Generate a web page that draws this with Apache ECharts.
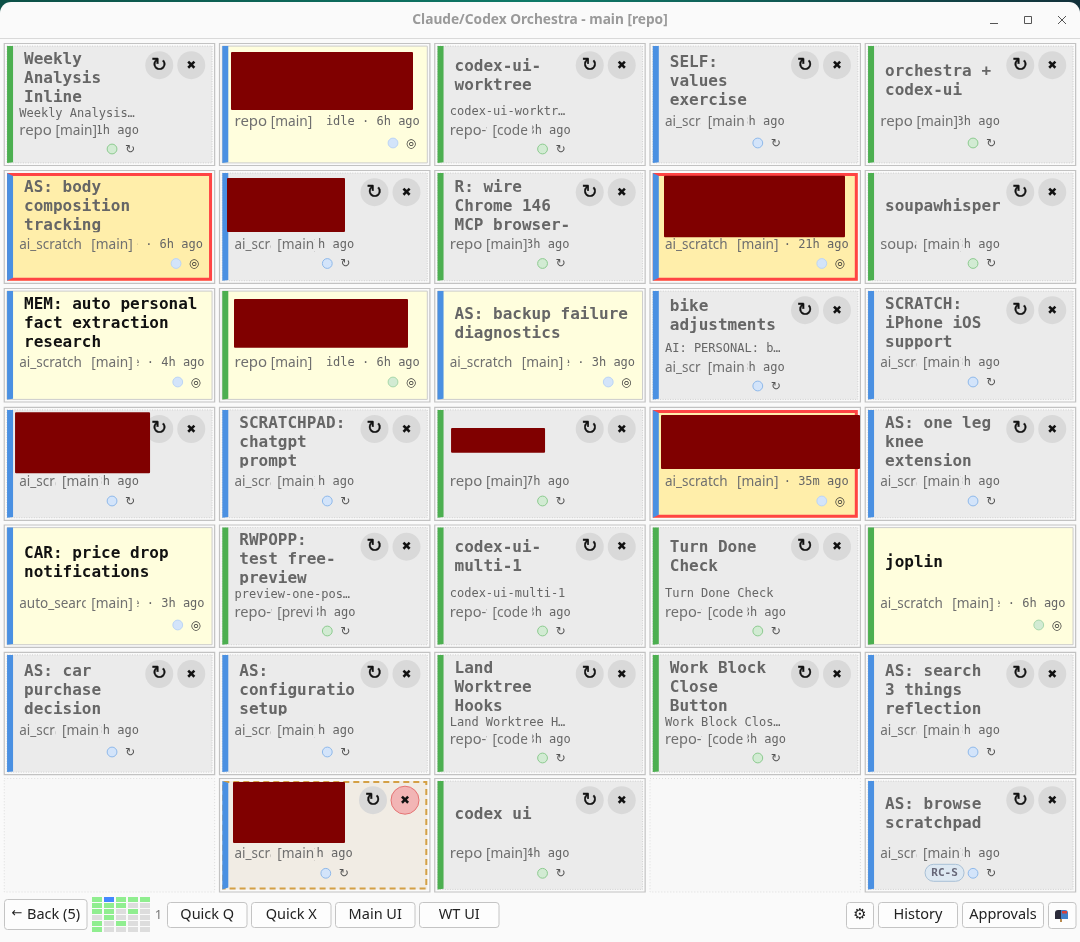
<!DOCTYPE html>
<html><head><meta charset="utf-8">
<style>html,body{margin:0;padding:0;background:#fafafa;overflow:hidden}#c{width:1080px;height:942px}</style>
<script src="https://cdn.jsdelivr.net/npm/echarts@6/dist/echarts.min.js"></script>
</head><body><div id="c"></div>
<script>
// ---- data: 7 rows x 5 columns of session cards ----
const titles = [
 "Weekly\nAnalysis\nInline", null, "codex-ui-\nworktree", "SELF:\nvalues\nexercise", "orchestra +\ncodex-ui",
 "AS: body\ncomposition\ntracking", null, "R: wire\nChrome 146\nMCP browser-", null, "soupawhisper",
 "MEM: auto personal\nfact extraction\nresearch", null, "AS: backup failure\ndiagnostics", "bike\nadjustments", "SCRATCH:\niPhone iOS\nsupport",
 null, "SCRATCHPAD:\nchatgpt\nprompt", null, null, "AS: one leg\nknee\nextension",
 "CAR: price drop\nnotifications", "RWPOPP:\ntest free-\npreview", "codex-ui-\nmulti-1", "Turn Done\nCheck", "joplin",
 "AS: car\npurchase\ndecision", "AS:\nconfiguration\nsetup", "Land\nWorktree\nHooks", "Work Block\nClose\nButton", "AS: search\n3 things\nreflection",
 null, null, "codex ui", null, "AS: browse\nscratchpad"
];
const subtitles = [
 "Weekly Analysis…", "", "codex-ui-worktr…", "", "",
 "", "", "", "", "",
 "", "", "", "AI: PERSONAL: b…", "",
 "", "", "", "", "",
 "", "preview-one-pos…", "codex-ui-multi-1", "Turn Done Check", "",
 "", "", "Land Worktree H…", "Work Block Clos…", "",
 "", "", "", "", ""
];
const repoNames = [
 "repo","repo","repo-wt","ai_scratch","repo",
 "ai_scratch","ai_scratch","repo","ai_scratch","soupawhisper",
 "ai_scratch","repo","ai_scratch","ai_scratch","ai_scratch",
 "ai_scratch","ai_scratch","repo","ai_scratch","ai_scratch",
 "auto_search","repo-wt","repo-wt","repo-wt","ai_scratch",
 "ai_scratch","ai_scratch","repo-wt","repo-wt","ai_scratch",
 "","ai_scratch","repo","","ai_scratch"
];
const branches = [
 "[main]","[main]","[codex-ui]","[main]","[main]",
 "[main]","[main]","[main]","[main]","[main]",
 "[main]","[main]","[main]","[main]","[main]",
 "[main]","[main]","[main]","[main]","[main]",
 "[main]","[preview]","[codex-ui]","[codex-ui]","[main]",
 "[main]","[main]","[codex-ui]","[codex-ui]","[main]",
 "","[main]","[main]","","[main]"
];
const ages = [
 "1h","6h","3h","3h","3h",
 "6h","3h","3h","21h","3h",
 "4h","6h","3h","3h","3h",
 "3h","3h","7h","35m","3h",
 "3h","3h","3h","3h","6h",
 "3h","3h","3h","3h","3h",
 "","1h","4h","","3h"
];
const agents = [
 "g","b","g","b","g",
 "b","b","g","b","g",
 "b","g","b","b","b",
 "b","b","g","b","b",
 "b","g","g","g","g",
 "b","b","g","g","b",
 "","b","g","","b"
];
// n normal, y waiting, u unread, a alert, h hovered, e empty
const states = [
 "n","y","n","n","n",
 "a","n","n","a","n",
 "u","y","y","n","n",
 "n","n","n","a","n",
 "u","n","n","n","u",
 "n","n","n","n","n",
 "e","h","n","e","n"
];
const badges = {34:"RC-S"};
const miniColumns = ["1","2","3","4","5"];
const miniRows = ["1","2","3","4","5","6"];
const miniStates = [
 [1,2,1,1,1],
 [1,1,1,0,0],
 [1,1,0,1,0],
 [0,1,0,0,0],
 [1,0,1,0,0],
 [1,0,0,0,0]
];
const toolbarLeft = ["Quick Q","Quick X","Main UI","WT UI"];
const windowTitle = "Claude/Codex Orchestra - main [repo]";

// ---- layout (not data) ----
const COL0 = 4.25, COLP = 215.25, CW = 210.4;
const rowTop = [43.5,170.5,288.5,407.3,525,652.3,778.5];
const rowBot = [165.5,283.3,402,520.3,647.3,774.7,892];
const rowTitle = [81.5,207.3,324.3,442.7,563,690.6,814.6];
const rowRepo = [122,245,363,482,603.7,731,854];
const rowDot = [143,263.5,382,501,625,752,873.3];
const tall = [1,0,0,0,1,1,0];
const redactions = { // card index -> offset box relative to card origin (x,y,w,h)
 1:[11.5,8.5,182,58], 6:[7.5,7.5,118,54], 8:[14,5.2,181,61.5], 11:[14.5,10.5,174,48.7],
 15:[10.8,5,135,61], 17:[16.3,20.7,94,24.7], 18:[11,7.7,199,54], 31:[13.5,3.5,112,61]
};
const MONO = '"DejaVu Sans Mono"', UI = '"Noto Sans"', SYM = '"DejaVu Sans"';
const GREY = '#666', BTN='#d9d9d9';
const nameSize = {repo:15, ai_scratch:13.5, auto_search:13.5, 'repo-wt':14.6, soupawhisper:14.6};
const BRANCH_SIZE = 13.7;

function txt(x,y,s,fill,font,align){
  return {type:'text',silent:true,style:{x,y,text:s,fill,font,align:align||'left',verticalAlign:'middle'}};
}
function clipped(x,y,w,h,child){
  return {type:'group',silent:true,clipPath:{type:'rect',shape:{x,y,width:w,height:h}},children:[child]};
}
function renderCard(params,api){
  const i = api.value(2), row = Math.floor(i/5);
  const p = api.coord([api.value(0),api.value(1)]);
  const x = p[0], y = p[1], h = rowBot[row]-rowTop[row], w = CW;
  const st = states[i], ch = [];
  // outer frame
  ch.push({type:'rect',shape:{x,y,width:w,height:h},style:{fill: st==='e'?'#f8f8f8':'#fafafa',stroke: st==='e'?'#dcdcdc':'#c2c2c2',lineWidth:st==='e'?1:1.2,lineDash:st==='e'?[1,2]:null}});
  if(st==='e') return {type:'group',children:ch};
  const ix=x+2.8, iy=y+2.6, iw=w-5.4, ih=h-5.2;
  const barC = agents[i]==='g'?'#4caf50':'#4a90e2';
  const yellow = st==='y'||st==='u';
  const fills = {n:'#ebebeb',y:'#fffedd',u:'#fffedd',a:'#ffeeaa',h:'#f1ece4'};
  ch.push({type:'rect',shape:{x:ix,y:iy,width:iw,height:ih},style:{fill:fills[st]}});
  if(st==='n') ch.push({type:'rect',shape:{x:ix,y:iy,width:iw,height:ih},style:{fill:null,stroke:'#cfcfcf',lineWidth:1,lineDash:[1,1.5]}});
  if(yellow) ch.push({type:'rect',shape:{x:ix,y:iy,width:iw,height:ih},style:{fill:null,stroke:'#cccccc',lineWidth:1}});
  if(st==='a') ch.push({type:'rect',shape:{x:ix+1.5,y:iy+1.5,width:iw-3,height:ih-3},style:{fill:null,stroke:'#ff4444',lineWidth:3}});
  if(st==='h') ch.push({type:'rect',shape:{x:ix+1,y:iy+1,width:iw-2,height:ih-2},style:{fill:null,stroke:'#d4a045',lineWidth:2,lineDash:[6,4]}});
  // left bar
  const bw=6;
  const m = st==='a'?3:(st==='h'?2:0);
  ch.push({type:'polygon',shape:{points:[[ix,iy],[ix+bw,iy+m],[ix+bw,iy+ih-Math.max(m,0.6)],[ix,iy+ih]]},style:{fill:barC}});
  const hasBtns = st==='n'||st==='h';
  const shift = st==='h'?-1.5:0;
  // title
  const sub = subtitles[i];
  if(titles[i]){
    const lines = titles[i].split('\n');
    let c = rowTitle[row];
    if(sub){ c += lines.length===3 ? -3 : (tall[row] ? -5.5 : -7.5); }
    const tc = st==='u' ? '#111' : GREY;
    const font = 'bold 16px '+MONO;
    lines.forEach((l,k)=>{
      const ly = c+(k-(lines.length-1)/2)*19;
      ch.push(clipped(x+19.5,c-30,hasBtns?115.6:w-22,55,txt(x+19.8,ly,l,tc,font)));
    });
  }
  // meta
  const repoY = rowRepo[row] + (sub ? (tall[row]?9:5) : 0);
  if(sub){
    const lines = titles[i]?titles[i].split('\n').length:2;
    ch.push(txt(x+15,repoY-(lines===3?17.5:19.2),sub,GREY,'12px '+MONO));
  }
  const nm = repoNames[i], br = branches[i];
  const nFont = (nameSize[nm]||14.6)+'px '+UI, bFont = BRANCH_SIZE+'px '+UI, uiCol = '#707070';
  const rx = x+15;
  if(nm==='repo'){
    ch.push(txt(rx,repoY,nm,uiCol,nFont));
    ch.push(txt(x+51.3,repoY,br,uiCol,bFont));
  } else if(hasBtns){
    ch.push(clipped(rx,repoY-12,nm.startsWith('repo-')?37:36,24,txt(rx,repoY,nm,uiCol,nFont)));
    ch.push(clipped(x+57,repoY-12,nm.startsWith('repo-')?36:38,24,txt(x+57.7,repoY,br,uiCol,bFont)));
  } else {
    ch.push(clipped(rx,repoY-12,st==='a'?71:66.5,24,txt(rx,repoY,nm,uiCol,nFont)));
    ch.push(txt(x+87,repoY,br,uiCol,bFont));
  }
  const tFont='12px '+MONO, tStr='idle · '+ages[i]+' ago';
  const wt = nm==='repo-wt';
  const tRight = hasBtns ? x+(wt?136:134.6)+shift : x+(st==='a'?198.7:200.3);
  let cl = null;
  if(hasBtns) cl = nm==='repo' ? 93.5 : 97.5;
  else if(nm!=='repo') cl = 133;
  const tEl = txt(tRight,repoY,tStr,GREY,tFont,'right');
  ch.push(cl===null?tEl:clipped(x+cl,repoY-12,300,24,tEl));
  // status row
  const dotY = rowDot[row] + (sub ? (tall[row]?6:4) : 0);
  const dx = hasBtns ? x+107.8+shift : x+(st==='a'?171.8:173.5);
  const pale = !hasBtns;
  const dFill = agents[i]==='g' ? '#d2ebd3' : '#d3e4fa';
  const dStroke = agents[i]==='g' ? (pale?'#a8d8ab':'#8dcb90') : (pale?'#bcd5f5':'#8fb9ea');
  ch.push({type:'circle',shape:{cx:dx,cy:dotY,r:4.9},style:{fill:dFill,stroke:dStroke,lineWidth:1}});
  ch.push(txt(dx+18,dotY+0.8,hasBtns?'↻':'◎',hasBtns?'#555':'#333','12px '+SYM,'center'));
  if(badges[i]){
    ch.push({type:'rect',shape:{x:dx-48,y:dotY-9,width:39,height:17,r:8.5},style:{fill:'#dde8f2',stroke:'#a8c0d6',lineWidth:1}});
    ch.push(txt(dx-28.5,dotY-0.5,badges[i],'#667','bold 11px '+MONO,'center'));
  }
  // action buttons
  if(hasBtns){
    const by = y+21.7;
    ch.push({type:'circle',shape:{cx:x+155+shift,cy:by,r:14},style:{fill:BTN}});
    const rf = txt(x+155+shift,by+0.5,'↻','#111','19px '+SYM,'center');
    rf.style.stroke='#111'; rf.style.lineWidth=0.35;
    ch.push(rf);
    ch.push({type:'circle',shape:{cx:x+187+shift,cy:by,r:14},style:st==='h'?{fill:'#f2b5b5',stroke:'#e57373',lineWidth:1}:{fill:BTN}});
    ch.push(txt(x+187+shift,by+0.5,'✖','#111','12px '+SYM,'center'));
  }
  // redaction
  const r = redactions[i];
  if(r) ch.push({type:'rect',shape:{x:x+r[0],y:y+r[1],width:r[2],height:r[3],r:1},style:{fill:'#800000'}});
  return {type:'group',children:ch};
}
function renderMini(params,api){
  const c = api.coord([api.value(0),api.value(1)]);
  const s = api.size([1,1]);
  return {type:'rect',shape:{x:c[0]-s[0]/2+1,y:c[1]-s[1]/2+0.5,width:s[0]-2,height:s[1]-1},
    style:{fill:['#dddddd','#90ee90','#4488ff'][api.value(2)]}};
}

const cardData = titles.map((_,i)=>[COL0+(i%5)*COLP, rowTop[Math.floor(i/5)], i]);
const miniData = [];
miniStates.forEach((r,ry)=>r.forEach((v,cx)=>miniData.push([cx,ry,v])));

// ---- window chrome & toolbar via graphic ----
function btn(x,y,w,h,label,font,fill){
  return [
   {type:'rect',shape:{x:x+0.5,y:y+0.5,width:w,height:h,r:3},style:{fill:'#fdfdfd',stroke:'#c4c4c4',lineWidth:1}},
   {type:'text',style:{x:x+w/2+0.5,y:y+h/2+0.5,text:label,fill:fill||'#222',font:font||'14.5px '+UI,align:'center',verticalAlign:'middle'}}
  ];
}
const g = [];
g.push({type:'rect',shape:{x:0,y:0,width:1080,height:14},style:{fill:new echarts.graphic.LinearGradient(0,0,1,0,[{offset:0,color:'#0c4f46'},{offset:0.5,color:'#0e7a68'},{offset:1,color:'#12303a'}])}});
g.push({type:'rect',shape:{x:0,y:2,width:1080,height:36.5,r:[11,11,0,0]},style:{fill:'#fafafa'}});
g.push({type:'line',shape:{x1:0,y1:38.5,x2:1080,y2:38.5},style:{stroke:'#d9d9d9',lineWidth:1}});
g.push({type:'text',style:{x:540,y:20.5,text:windowTitle,fill:'#9a9a9a',font:'bold 13.7px '+UI,align:'center',verticalAlign:'middle'}});
g.push({type:'line',shape:{x1:990,y1:23.5,x2:998,y2:23.5},style:{stroke:'#555',lineWidth:1}});
g.push({type:'rect',shape:{x:1024.5,y:16.5,width:7,height:7},style:{fill:null,stroke:'#555',lineWidth:1}});
g.push({type:'line',shape:{x1:1058,y1:16,x2:1066,y2:24},style:{stroke:'#555',lineWidth:1}});
g.push({type:'line',shape:{x1:1066,y1:16,x2:1058,y2:24},style:{stroke:'#555',lineWidth:1}});
g.push(...btn(4,899,82.5,30,''));
g.push({type:'text',style:{x:17,y:914,text:'←',fill:'#222',font:'13px '+SYM,align:'center',verticalAlign:'middle'}});
g.push({type:'text',style:{x:27,y:914.5,text:'Back (5)',fill:'#222',font:'14.5px '+UI,align:'left',verticalAlign:'middle'}});
g.push({type:'text',style:{x:158.5,y:915,text:'1',fill:'#777',font:'13px '+UI,align:'center',verticalAlign:'middle'}});
toolbarLeft.forEach((t,k)=>g.push(...btn(167+84*k,902,79.5,25,t)));
g.push(...btn(846,902,27,26,'⚙','15px '+SYM));
g.push(...btn(878,902,79,25,'History'));
g.push(...btn(962,902,81,25,'Approvals'));
g.push(...btn(1048,902,27.5,26,''));
g.push({type:'rect',shape:{x:1055,y:910,width:7,height:9,r:[3,0,0,0]},style:{fill:'#2b2b3a'}});
g.push({type:'rect',shape:{x:1061,y:910,width:7,height:9,r:[0,3,0,0]},style:{fill:'#3f7fc8'}});
g.push({type:'rect',shape:{x:1062,y:911,width:5,height:2.5},style:{fill:'#d8413a'}});
g.push({type:'rect',shape:{x:1060,y:919,width:2,height:3},style:{fill:'#b98a4e'}});

const chart = echarts.init(document.getElementById('c'),null,{renderer:'canvas'});
chart.setOption({
  animation:false,
  backgroundColor:'#fafafa',
  graphic:{elements:g.map(e=>Object.assign(e,{silent:true}))},
  tooltip:{show:false},
  grid:[
    {left:0,top:0,width:1080,height:942,containLabel:false},
    {left:91,top:896.5,width:60,height:36,containLabel:false}
  ],
  xAxis:[
    {type:'value',min:0,max:1080,show:false,gridIndex:0},
    {type:'category',data:miniColumns,show:false,gridIndex:1}
  ],
  yAxis:[
    {type:'value',min:0,max:942,inverse:true,show:false,gridIndex:0},
    {type:'category',data:miniRows,inverse:true,show:false,gridIndex:1}
  ],
  series:[
    {type:'custom',name:'cards',xAxisIndex:0,yAxisIndex:0,clip:false,silent:true,data:cardData,renderItem:renderCard,encode:{x:0,y:1}},
    {type:'custom',name:'mini',xAxisIndex:1,yAxisIndex:1,silent:true,data:miniData,renderItem:renderMini,encode:{x:0,y:1}}
  ]
});
</script></body></html>
